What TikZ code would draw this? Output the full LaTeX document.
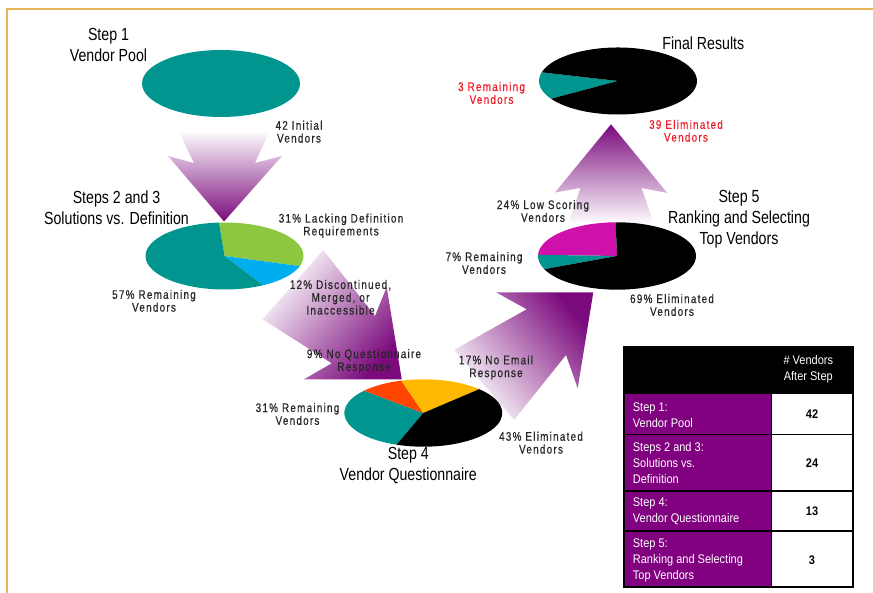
\documentclass[tikz,border=0pt]{standalone}
\usepackage{fontspec}
\setmainfont{Liberation Sans}
\newfontfamily\hfont{Liberation Sans}[FakeStretch=0.81]
\newfontfamily\lfont{Liberation Sans}[FakeStretch=0.8,LetterSpace=10,FakeBold=0.5]
\newfontfamily\tfont{Liberation Sans}[FakeStretch=0.88]
\definecolor{pteal}{RGB}{0,150,143}
\definecolor{pgreen}{RGB}{141,198,63}
\definecolor{pcyan}{RGB}{0,174,239}
\definecolor{pred}{RGB}{255,69,0}
\definecolor{pyellow}{RGB}{255,185,0}
\definecolor{pmag}{RGB}{208,16,170}
\definecolor{apurple}{RGB}{123,10,125}
\definecolor{tpurple}{RGB}{128,0,128}
\definecolor{bordercol}{RGB}{232,180,90}
\definecolor{redtext}{RGB}{240,30,40}
\newcommand{\pslice}[5]{\fill[#1] (#2) -- ++(#3:79 and #5) arc[start angle=#3,end angle=#4,x radius=79,y radius=#5] -- cycle;}
\begin{document}
\begin{tikzpicture}[x=1pt,y=1pt,
  head/.style={font=\fontsize{17.5}{21}\hfont, align=center, inner sep=0pt},
  lab/.style={font=\fontsize{12.4}{12.8}\lfont, align=center, inner sep=0pt, text=black!85},
  redlab/.style={lab, text=redtext},
  tcell/.style={font=\fontsize{12.5}{16}\tfont, align=left, anchor=west, inner sep=0pt, text=white},
  tnum/.style={font=\fontsize{12.5}{16}\tfont\bfseries, inner sep=0pt},
  thead/.style={font=\fontsize{12.5}{16}\tfont, align=center, inner sep=0pt, text=white}
]
\useasboundingbox (0,0) rectangle (873,593);
% border
\draw[bordercol, line width=2.2] (7,0) -- (7,584) -- (873,584);

% arrows
\shade[top color=white, bottom color=apurple]
  (178,463) -- (270,463) -- (255,430) -- (282,437) -- (224,371.5) -- (168,437) -- (194,430) -- cycle;
\shade[top color=white, bottom color=apurple, shading angle=49]
  (323.3,343) -- (375,277) -- (386.7,306) -- (401.7,213.7) -- (304,213.7) -- (331.7,229.7) -- (262.7,273.7) -- cycle;
\shade[bottom color=white, top color=apurple, shading angle=-50]
  (454,243) -- (526.7,283.7) -- (496,300.7) -- (593.3,300.7) -- (577.7,204.7) -- (566,238) -- (514,173) -- cycle;
\shade[top color=apurple, bottom color=white]
  (611,468.7) -- (667.3,400) -- (641.5,405) -- (654,369) -- (568,369) -- (580.5,405) -- (555,400.5) -- cycle;

% pies
\coordinate (p1) at (221,509.5);
\coordinate (p2) at (224.5,337);
\coordinate (p3) at (423.3,180);
\coordinate (p4) at (617,337);
\coordinate (p5) at (618,512);
\fill[pteal] (p1) ellipse[x radius=79, y radius=33.5];
\pslice{pgreen}{p2}{94}{-17.6}{33.5}
\pslice{pcyan}{p2}{-17.6}{-60.8}{33.5}
\pslice{pteal}{p2}{-60.8}{-266}{33.5}
\pslice{pteal}{p3}{138.6}{250.2}{33.7}
\pslice{pred}{p3}{106.2}{138.6}{33.7}
\pslice{pyellow}{p3}{45}{106.2}{33.7}
\pslice{black}{p3}{-109.8}{45}{33.7}
\pslice{pmag}{p4}{91}{178}{33.7}
\pslice{pteal}{p4}{178}{203}{33.7}
\pslice{black}{p4}{203}{451}{33.7}
\pslice{pteal}{p5}{165}{212}{33.5}
\pslice{black}{p5}{212}{525}{33.5}

% texts
\node[head] (h1) at (108.5,548) {Step 1\\Vendor Pool};
\node[lab] (l1) at (299,461.3) {42 Initial\\Vendors};
\node[head] (h2) at (116.5,385.5) {Steps 2 and 3\\Solutions vs. Definition};
\node[lab] (l2a) at (341,367.2) {31\% Lacking Definition\\Requirements};
\node[lab] (l2b) at (154,292.2) {57\% Remaining\\Vendors};
\node[lab] (l2c) at (340.5,295.7) {12\% Discontinued,\\Merged, or\\Inaccessible};
\node[lab] (l3a) at (364,231.7) {9\% No Questionnaire\\Response};
\node[lab] (l3b) at (297.5,179) {31\% Remaining\\Vendors};
\node[head] (h3) at (408.3,127) {Step 4\\Vendor Questionnaire};
\node[lab] (l3c) at (496,225.5) {17\% No Email\\Response};
\node[lab] (l3d) at (541,150.3) {43\% Eliminated\\Vendors};
\node[head] (h5) at (703.3,549.7) {Final Results};
\node[redlab] (l5a) at (491.5,500) {3 Remaining\\Vendors};
\node[redlab] (l5b) at (686,462.2) {39 Eliminated\\Vendors};
\node[lab] (l4a) at (543,382) {24\% Low Scoring\\Vendors};
\node[head] (h4) at (739,373.6) {Step 5\\Ranking and Selecting\\Top Vendors};
\node[lab] (l4b) at (484,330) {7\% Remaining\\Vendors};
\node[lab] (l4c) at (672,288) {69\% Eliminated\\Vendors};

% table
\fill[black] (624,198.7) rectangle (852.7,245.7);
\fill[tpurple] (624,5.7) rectangle (771.7,198.7);
\fill[white] (771.7,5.7) rectangle (852.7,198.7);
\draw[black, line width=1.2] (624,158.7) -- (852.7,158.7);
\draw[black, line width=1.2] (624,102) -- (852.7,102);
\draw[black, line width=1.2] (624,62) -- (852.7,62);
\draw[black, line width=1.2] (771.7,5.7) -- (771.7,198.7);
\draw[black, line width=1.6] (624,5.7) rectangle (852.7,245.7);
\node[thead] (th) at (808.3,223.3) {\# Vendors\\After Step};
\node[tcell] (r1) at (632.7,178.2) {Step 1:\\Vendor Pool};
\node[tcell] (r2) at (632.7,129.8) {Steps 2 and 3:\\Solutions vs.\\Definition};
\node[tcell] (r3) at (632.7,81.7) {Step 4:\\Vendor Questionnaire};
\node[tcell] (r4) at (632.7,33) {Step 5:\\Ranking and Selecting\\Top Vendors};
\node[tnum] (n1) at (812,179) {42};
\node[tnum] (n2) at (812,129.7) {24};
\node[tnum] (n3) at (812,81.3) {13};
\node[tnum] (n4) at (812,33) {3};
\end{tikzpicture}
\end{document}
